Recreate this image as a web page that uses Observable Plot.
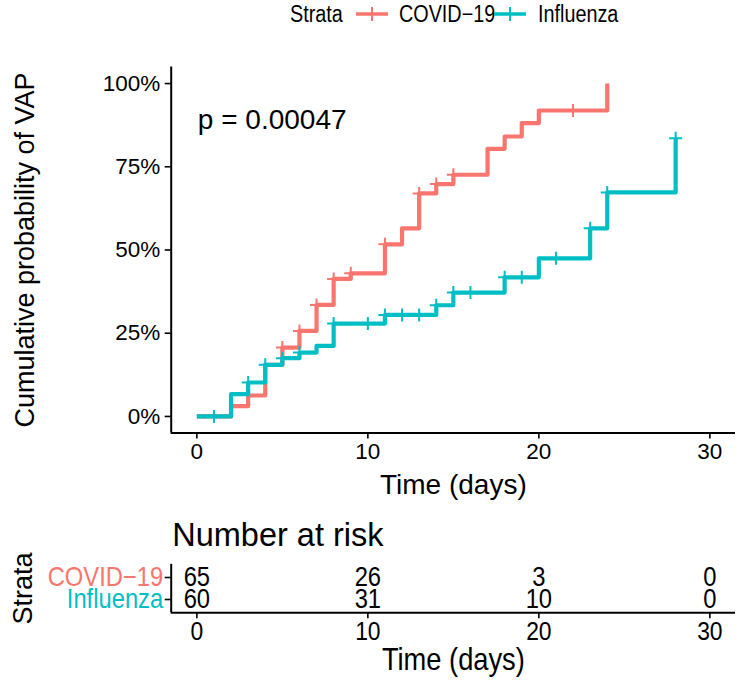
<!DOCTYPE html>
<html>
<head>
<meta charset="utf-8">
<script src="https://cdn.jsdelivr.net/npm/d3@7"></script>
<script src="https://cdn.jsdelivr.net/npm/@observablehq/plot@0.6"></script>
<style>
  html, body { margin: 0; padding: 0; background: #fff; }
  #wrap { position: relative; width: 739px; height: 683px; overflow: hidden; background: #fff; }
  #legend { position: absolute; top: 0; left: 0; width: 739px; height: 30px;
            font-family: "Liberation Sans", Arial, sans-serif; font-size: 23px; color: #000; white-space: nowrap; }
  #legend .item { position: absolute; top: 1px; line-height: 26px; display: inline-block;
                  transform: scaleX(0.86); transform-origin: left center; }
  #legend svg { position: absolute; top: 2px; }
  #wrap svg.plotsvg { position: absolute; left: 0; }
</style>
</head>
<body>
<div id="wrap">
  <div id="legend"></div>
</div>
<script>
// ---------------- data ----------------
const strata = ["COVID−19", "Influenza"];
const strataColors = ["#F8766D", "#00BFC4"];

// Kaplan–Meier cumulative incidence steps (time in days, cumulative %)
const covidTimes = [0, 2, 3, 4, 5, 6, 7, 8, 9, 11, 12, 13, 14, 15, 17, 18, 19, 20, 24];
const covidCum   = [0, 3.1, 6.3, 15.5, 20.7, 25.7, 33.5, 41.3, 43.0, 51.7, 56.5, 67.0, 69.8, 72.6, 80.4, 84.1, 88.1, 91.9, 100];
const fluTimes   = [0, 2, 3, 4, 5, 6, 7, 8, 11, 14, 15, 18, 20, 23, 24, 28];
const fluCum     = [0, 6.7, 10.2, 15.5, 17.5, 19.2, 21.2, 27.9, 30.5, 33.4, 37.2, 41.8, 47.5, 56.5, 67.3, 83.6];

// censoring times
const covidCensor = [5, 6, 7, 8, 9, 11, 13, 14, 15, 22];
const fluCensor   = [1, 3, 4, 5, 6, 8, 10, 11, 12, 13, 14, 15, 16, 18, 19, 21, 23, 24, 28];

// number at risk table
const riskTimes   = [0, 10, 20, 30];
const covidAtRisk = [65, 26, 3, 0];
const fluAtRisk   = [60, 31, 10, 0];

const xTicks = [0, 10, 20, 30];
const yTicks = [0, 25, 50, 75, 100];
const pValueAnnot = [{time: 0, cum: 89, label: "p = 0.00047"}];
const xTitle = "Time (days)";
const yTitle = "Cumulative probability of VAP";
const riskTitle = "Number at risk";
const strataTitle = "Strata";

// ---------------- derived tables ----------------
const series = [
  {name: strata[0], times: covidTimes, cum: covidCum, censor: covidCensor, risk: covidAtRisk},
  {name: strata[1], times: fluTimes, cum: fluCum, censor: fluCensor, risk: fluAtRisk}
];
const curves = series.flatMap(s => s.times.map((t, i) => ({strata: s.name, time: t, cum: s.cum[i]})));
function levelAt(s, t) {
  let v = 0;
  s.times.forEach((tt, i) => { if (tt <= t) v = s.cum[i]; });
  return v;
}
const censors = series.flatMap(s => s.censor.map(t => ({strata: s.name, time: t, cum: levelAt(s, t)})));
const riskRows = series.flatMap((s, k) => riskTimes.map((t, i) => ({strata: s.name, row: k + 1, time: t, n: s.risk[i]})));
const strataRows = series.map((s, k) => ({strata: s.name, row: k + 1}));
const colorOf = name => strataColors[strata.indexOf(name)];

const cross = {
  draw(context, size) {
    const r = Math.sqrt(size / Math.PI);
    context.moveTo(-r, 0); context.lineTo(r, 0);
    context.moveTo(0, -r); context.lineTo(0, r);
  }
};

const mainFont = '"Liberation Sans", Arial, Helvetica, sans-serif';
const xDomain = [-1.5, 31.5];

// ---------------- legend ----------------
const legend = document.getElementById("legend");
function keySvg(color, cx) {
  return `<svg width="34" height="24" viewBox="0 0 34 24" style="left:${cx - 17}px"><line x1="1" x2="33" y1="12" y2="12" stroke="${color}" stroke-width="3.5"/><line x1="17" x2="17" y1="5" y2="19" stroke="${color}" stroke-width="2"/></svg>`;
}
legend.innerHTML =
  `<span class="item" style="left:290px">${strataTitle}</span>` +
  keySvg(strataColors[0], 372) + `<span class="item" style="left:399px">${strata[0]}</span>` +
  keySvg(strataColors[1], 510) + `<span class="item" style="left:538px">${strata[1]}</span>`;

// ---------------- main plot ----------------
const mainTop = 40, mainH = 470;
const main = Plot.plot({
  width: 739, height: mainH,
  marginLeft: 170.7, marginRight: 4, marginTop: 66.4 - mainTop, marginBottom: mainTop + mainH - 432.6,
  style: {fontFamily: mainFont, fontSize: "22px", color: "#000", background: "transparent", overflow: "visible"},
  x: {domain: xDomain},
  y: {domain: [-5, 105]},
  color: {domain: strata, range: strataColors},
  marks: [
    Plot.axisX(xTicks, {tickSize: 6, tickPadding: 4, tickFormat: d => String(d), label: null, fontSize: 22.5, strokeWidth: 1.6}),
    Plot.axisY(yTicks, {tickSize: 6, tickPadding: 5, tickFormat: d => d + "%", label: null, fontSize: 22.5, strokeWidth: 1.6}),
    Plot.ruleX([xDomain[0]], {strokeWidth: 2}),
    Plot.ruleY([-5], {strokeWidth: 2}),
    Plot.line(curves, {x: "time", y: "cum", z: "strata", stroke: "strata", curve: "step-after", strokeWidth: 4.2, strokeLinecap: "butt", strokeLinejoin: "round"}),
    Plot.dot(censors, {x: "time", y: "cum", stroke: "strata", symbol: cross, r: 6.5, strokeWidth: 2, fill: "none"}),
    Plot.text(pValueAnnot, {x: "time", y: "cum", text: "label", textAnchor: "start", lineAnchor: "middle", fontSize: 28, dx: 1}),
    Plot.text([yTitle], {frameAnchor: "left", textAnchor: "middle", rotate: -90, dx: -146, lineAnchor: "middle", fontSize: 27}),
    Plot.text([xTitle], {frameAnchor: "bottom", textAnchor: "middle", dy: 52, lineAnchor: "middle", fontSize: 28})
  ]
});
main.classList.add("plotsvg");
main.style.top = mainTop + "px";
document.getElementById("wrap").appendChild(main);

// ---------------- risk table ----------------
const tabTop = 512, tabH = 683 - 512;
const rowTop = 563.8, rowBottom = 612.2;
const table = Plot.plot({
  width: 739, height: tabH,
  marginLeft: 170.7, marginRight: 4, marginTop: rowTop - tabTop, marginBottom: tabTop + tabH - rowBottom,
  style: {fontFamily: mainFont, fontSize: "26px", color: "#000", background: "transparent", overflow: "visible"},
  x: {domain: xDomain},
  y: {domain: [0.4, 2.6], reverse: true},
  marks: [
    Plot.axisX(xTicks, {tickSize: 6, tickPadding: 3, tickFormat: d => String(d), label: null, fontSize: 26, strokeWidth: 1.6}),
    Plot.axisY(strataRows.map(d => d.row), {tickSize: 6, tickFormat: () => "", label: null, strokeWidth: 1.6}),
    Plot.ruleX([xDomain[0]], {strokeWidth: 2}),
    Plot.ruleY([2.6], {strokeWidth: 2}),
    Plot.text(strataRows, {y: "row", text: "strata", frameAnchor: "left", dx: -8, textAnchor: "end", lineAnchor: "middle", fill: d => colorOf(d.strata), fontSize: 27}),
    Plot.text(riskRows, {x: "time", y: "row", text: "n", textAnchor: "middle", lineAnchor: "middle", fontSize: 27}),
    Plot.text([riskTitle], {frameAnchor: "top-left", dx: 1, dy: -29, textAnchor: "start", lineAnchor: "middle", fontSize: 32.5}),
    Plot.text([strataTitle], {frameAnchor: "left", textAnchor: "middle", rotate: -90, dx: -148, lineAnchor: "middle", fontSize: 27}),
    Plot.text([xTitle], {frameAnchor: "bottom", textAnchor: "middle", dy: 47, lineAnchor: "middle", fontSize: 31})
  ]
});
// condensed lettering of the risk table (as in the reference)
table.querySelectorAll("text").forEach(t => {
  if (t.textContent === riskTitle || t.textContent === strataTitle) return;
  const x = +t.getAttribute("x") || 0, y = +t.getAttribute("y") || 0;
  const tr = t.getAttribute("transform") || "";
  t.setAttribute("transform", `${tr} translate(${x},${y}) scale(0.88,1) translate(${-x},${-y})`);
});
table.classList.add("plotsvg");
table.style.top = tabTop + "px";
document.getElementById("wrap").appendChild(table);
</script>
</body>
</html>
